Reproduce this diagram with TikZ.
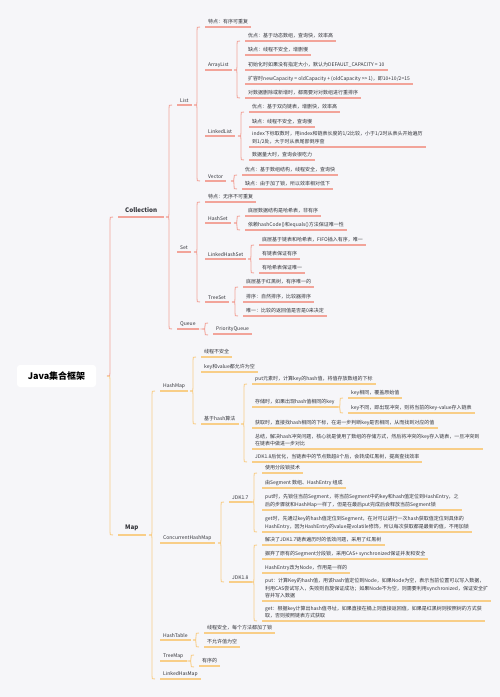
\documentclass[tikz,border=0pt]{standalone}
\usepackage{fontspec}
\usepackage{xcolor}
\usepackage{tikz}
\usetikzlibrary{calc}

\newfontfamily\cjk{Noto Sans CJK SC}

\definecolor{pinkc}{HTML}{F2A49A}
\definecolor{orangec}{HTML}{F8CE88}
\definecolor{ink}{HTML}{33343A}
\definecolor{bgc}{HTML}{F6F6F9}

% half braces: from a child's underline to the cusp at the parent
\newcommand{\upbrc}[3]{%
  \draw[#3] let \p1=(#1), \p2=(#2.south west), \n1={\x2-8pt} in
    (\n1+3pt,\y2) .. controls (\n1,\y2) .. (\n1,\y2-3pt) -- (\n1,\y1+3pt)
    .. controls (\n1,\y1) .. (\n1-3pt,\y1);}
\newcommand{\dnbrc}[3]{%
  \draw[#3] let \p1=(#1), \p2=(#2.south west), \n1={\x2-8pt} in
    (\n1+3pt,\y2) .. controls (\n1,\y2) .. (\n1,\y2+3pt) -- (\n1,\y1-3pt)
    .. controls (\n1,\y1) .. (\n1-3pt,\y1);}
\newcommand{\brc}[4]{\upbrc{#1}{#2}{#4}\dnbrc{#1}{#3}{#4}}
% brace round a single child
\newcommand{\sbrc}[3]{%
  \draw[#3] let \p1=(#1), \p2=(#2.south west), \n1={\x2-8pt} in
    (\n1+3pt,\y1+6pt) .. controls (\n1,\y1+6pt) .. (\n1,\y1+3pt)
    .. controls (\n1,\y1) .. (\n1-3pt,\y1)
    .. controls (\n1,\y1) .. (\n1,\y1-3pt)
    .. controls (\n1,\y1-6pt) .. (\n1+3pt,\y1-6pt);}

\begin{document}
\begin{tikzpicture}[
    x=1pt, y=-1pt,
    leaf/.style={anchor=south west, inner xsep=3pt, inner ysep=2.5pt,
                 align=left, text=ink, font=\cjk\fontsize{5}{7.5}\selectfont},
    head/.style={anchor=south west, inner xsep=7pt, inner ysep=4.5pt,
                 text=ink, font=\cjk\bfseries\fontsize{6.2}{7}\selectfont},
    rootbox/.style={rectangle, rounded corners=3pt, fill=white,
                 minimum width=79pt, minimum height=22pt, text=black,
                 font=\cjk\bfseries\fontsize{9}{10}\selectfont},
    pinkline/.style={draw=pinkc, line width=0.9pt},
    orangeline/.style={draw=orangec, line width=0.9pt}
]
\fill[bgc] (0,0) rectangle (500,697);

\node[rootbox] (root) at (56.5,376) {Java集合框架};
\node[head] (collection) at (118,217) {Collection};
\node[head] (map) at (118,535) {Map};

% Collection
\node[leaf] (list) at (177,105) {List};
\node[leaf] (lfeat) at (205,27) {特点：有序可重复};
\node[leaf] (arraylist) at (205,70) {ArrayList};
\node[leaf] (al1) at (245,41) {优点：基于动态数组，查询快，效率高};
\node[leaf] (al2) at (245,55) {缺点：线程不安全，增删慢};
\node[leaf] (al3) at (245,70) {初始化时如果没有指定大小，默认为DEFAULT\_CAPACITY = 10};
\node[leaf] (al4) at (245,84) {扩容时newCapacity = oldCapacity + (oldCapacity >{}> 1)，即10+10/2=15};
\node[leaf] (al5) at (245,98) {对数据删除或新增时，都需要对对数组进行重排序};
\node[leaf] (linkedlist) at (205,136) {LinkedList};
\node[leaf] (ll1) at (249,112) {优点：基于双向链表，增删快，效率高};
\node[leaf] (ll2) at (249,127) {缺点：线程不安全，查询慢};
\node[leaf] (ll3) at (249,147) {index下标取数时，用index和链表长度的1/2比较，小于1/2时从表头开始遍历\\到1/2处，大于时从表尾部倒序查};
\node[leaf] (ll4) at (249,160) {数据量大时，查询会很吃力};
\node[leaf] (vector) at (205,181) {Vector};
\node[leaf] (v1) at (242,175) {优点：基于数组结构，线程安全，查询快};
\node[leaf] (v2) at (242,189) {缺点：由于加了锁，所以效率相对低下};

\node[leaf] (set) at (177,252) {Set};
\node[leaf] (sfeat) at (205,202) {特点：无序不可重复};
\node[leaf] (hashset) at (205,223) {HashSet};
\node[leaf] (hs1) at (245,216) {底层数据结构是哈希表，非有序};
\node[leaf] (hs2) at (245,230) {依赖hashCode()和equals()方法保证唯一性};
\node[leaf] (linkedhashset) at (205,259) {LinkedHashSet};
\node[leaf] (lhs1) at (259,245) {底层基于链表和哈希表，FIFO插入有序，唯一};
\node[leaf] (lhs2) at (259,259) {有链表保证有序};
\node[leaf] (lhs3) at (259,273) {有哈希表保证唯一};
\node[leaf] (treeset) at (205,302) {TreeSet};
\node[leaf] (ts1) at (243,287) {底层基于红黑树，有序唯一的};
\node[leaf] (ts2) at (243,302) {排序：自然排序，比较器排序};
\node[leaf] (ts3) at (243,316) {唯一：比较的返回值是否是0来决定};

\node[leaf] (queue) at (177,329) {Queue};
\node[leaf] (pqueue) at (213,334) {PriorityQueue};

% Map
\node[leaf] (hashmap) at (160,391) {HashMap};
\node[leaf] (hm1) at (201,357) {线程不安全};
\node[leaf] (hm2) at (201,372) {key和value都允许为空};
\node[leaf] (hashalg) at (201,424) {基于hash算法};
\node[leaf] (ha1) at (252,384) {put元素时，计算key的hash值，将值存放数组的下标};
\node[leaf] (ha2) at (252,407) {存储时，如果出现hash值相同的key};
\node[leaf] (ha21) at (348,398) {key相同，覆盖原始值};
\node[leaf] (ha22) at (348,413) {key不同，即出现冲突，则将当前的key-value存入链表};
\node[leaf] (ha3) at (252,428) {获取时，直接找hash相同的下标，在进一步判断key是否相同，从而找到对应的值};
\node[leaf] (ha4) at (252,449) {总结，解决hash冲突问题，核心就是使用了数组的存储方式，然后将冲突的key存入链表，一旦冲突到\\在链表中做进一步对比};
\node[leaf] (ha5) at (252,462) {JDK1.8后优化，当链表中的节点数超8个后，会转成红黑树，提高查找效率};

\node[leaf] (chm) at (160,543) {ConcurrentHashMap};
\node[leaf] (jdk17) at (229,502) {JDK1.7};
\node[leaf] (j71) at (262,473) {使用分段锁技术};
\node[leaf] (j72) at (262,488) {由Segment 数组、HashEntry 组成};
\node[leaf] (j73) at (262,510) {put时，先锁住当前Segment，将当前Segment中的key和hash值定位到HashEntry，之\\后的步骤就和HashMap一样了，但是在最后put完成后会释放当前Segment锁};
\node[leaf] (j74) at (262,532) {get时，先通过key的hash值定位到Segment，在对可以进行一次hash获取值定位到具体的\\HashEntry，因为HashEntry的value是volatile修饰，所以每次获取都是最新的值，不用加锁};
\node[leaf] (jdk18) at (229,582) {JDK1.8};
\node[leaf] (j81) at (262,545) {解决了JDK1.7链表遍历时的低效问题，采用了红黑树};
\node[leaf] (j82) at (262,559) {摒弃了原有的Segment分段锁，采用CAS+ synchronized保证并发和安全};
\node[leaf] (j83) at (262,573) {HashEntry改为Node，作用是一样的};
\node[leaf] (j84) at (262,601) {put：计算Key的hash值，用该hash值定位到Node，如果Node为空，表示当前位置可以写入数据，\\利用CAS尝试写入，失败则自旋保证成功；如果Node不为空，则需要利用synchronized，保证安全扩\\容并写入数据};
\node[leaf] (j85) at (262,621) {get：根据key计算出hash值寻址，如果直接在桶上则直接返回值，如果是红黑树则按照树的方式获\\取，否则按照链表方式获取};

\node[leaf] (hashtable) at (160,640) {HashTable};
\node[leaf] (ht1) at (204,633) {线程安全，每个方法都加了锁};
\node[leaf] (ht2) at (204,647) {不允许值为空};
\node[leaf] (treemap) at (160,661) {TreeMap};
\node[leaf] (tm1) at (199,666) {有序的};
\node[leaf] (linkedhasmap) at (160,679) {LinkedHasMap};

% underlines
\foreach \nm in {collection,list,lfeat,arraylist,al1,al2,al3,al4,al5,
    linkedlist,ll1,ll2,ll3,ll4,vector,v1,v2,set,sfeat,hashset,hs1,hs2,
    linkedhashset,lhs1,lhs2,lhs3,treeset,ts1,ts2,ts3,queue,pqueue}
  \draw[pinkline, line width=1.2pt] (\nm.south west) -- (\nm.south east);
\foreach \nm in {map,hashmap,hm1,hm2,hashalg,ha1,ha2,ha21,ha22,ha3,ha4,ha5,
    chm,jdk17,j71,j72,j73,j74,jdk18,j81,j82,j83,j84,j85,
    hashtable,ht1,ht2,treemap,tm1,linkedhasmap}
  \draw[orangeline, line width=1.2pt] (\nm.south west) -- (\nm.south east);

% braces
\upbrc{root.east}{collection}{pinkline}
\dnbrc{root.east}{map}{orangeline}

\brc{collection.south east}{list}{queue}{pinkline}
\brc{list.south east}{lfeat}{vector}{pinkline}
\brc{arraylist.south east}{al1}{al5}{pinkline}
\brc{linkedlist.south east}{ll1}{ll4}{pinkline}
\brc{vector.south east}{v1}{v2}{pinkline}
\brc{set.south east}{sfeat}{treeset}{pinkline}
\brc{hashset.south east}{hs1}{hs2}{pinkline}
\brc{linkedhashset.south east}{lhs1}{lhs3}{pinkline}
\brc{treeset.south east}{ts1}{ts3}{pinkline}
\sbrc{queue.south east}{pqueue}{pinkline}

\brc{map.south east}{hashmap}{linkedhasmap}{orangeline}
\brc{hashmap.south east}{hm1}{hashalg}{orangeline}
\brc{hashalg.south east}{ha1}{ha5}{orangeline}
\brc{ha2.south east}{ha21}{ha22}{orangeline}
\brc{chm.south east}{jdk17}{jdk18}{orangeline}
\brc{jdk17.south east}{j71}{j74}{orangeline}
\brc{jdk18.south east}{j81}{j85}{orangeline}
\brc{hashtable.south east}{ht1}{ht2}{orangeline}
\sbrc{treemap.south east}{tm1}{orangeline}

\end{tikzpicture}
\end{document}
